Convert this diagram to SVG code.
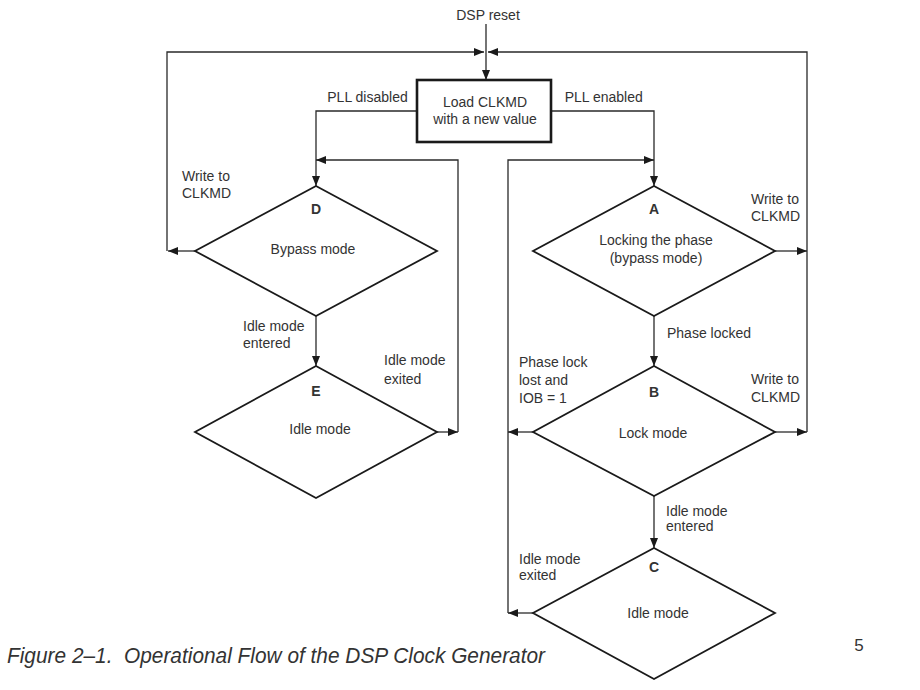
<svg xmlns="http://www.w3.org/2000/svg" width="920" height="690" viewBox="0 0 920 690">
<defs>
<marker id="ah" viewBox="0 0 10 8" refX="10" refY="4" markerWidth="10" markerHeight="8" markerUnits="userSpaceOnUse" orient="auto">
<path d="M0,0 L10,4 L0,8 Z" fill="#1a1a1a"/>
</marker>
<style>
text{font-family:"Liberation Sans",Arial,sans-serif;font-size:14px;fill:#333}
.c{text-anchor:middle}
.b{font-weight:bold}
.dia{fill:none;stroke:#1a1a1a;stroke-width:1.8}
.box{fill:#fff;stroke:#1a1a1a;stroke-width:2.6}
.cn{fill:none;stroke:#2a2a2a;stroke-width:1.3}
.ar{marker-end:url(#ah)}
</style>
</defs>
<rect width="920" height="690" fill="#fff"/>

<g id="connectors">
<path class="cn ar" d="M486,24 V80"/>
<path class="cn ar" d="M167,251 V52 H484"/>
<path class="cn ar" d="M807,432 V52 H488"/>
<path class="cn ar" d="M195,251 H168"/>
<path class="cn ar" d="M775,251 H807"/>
<path class="cn ar" d="M775,432 H807"/>
<path class="cn ar" d="M417,111 H316 V186"/>
<path class="cn ar" d="M551,111 H654 V186"/>
<path class="cn ar" d="M316,316 V366"/>
<path class="cn ar" d="M437,432 H458"/>
<path class="cn ar" d="M458,432 V160 H316"/>
<path class="cn ar" d="M654,316 V366"/>
<path class="cn ar" d="M654,496 V548"/>
<path class="cn ar" d="M533,432 H508"/>
<path class="cn ar" d="M533,613 H508"/>
<path class="cn ar" d="M508,613 V160 H654"/>
<text x="367.5" y="102" class="c">PLL disabled</text>
<text x="603.7" y="102" class="c">PLL enabled</text>
<text x="182" y="181">Write to</text>
<text x="182" y="198">CLKMD</text>
<text x="751" y="204">Write to</text>
<text x="751" y="221">CLKMD</text>
<text x="751" y="384">Write to</text>
<text x="751" y="402">CLKMD</text>
<text x="243" y="330.5">Idle mode</text>
<text x="243" y="348">entered</text>
<text x="384" y="365">Idle mode</text>
<text x="384" y="383.5">exited</text>
<text x="667" y="338">Phase locked</text>
<text x="519" y="367">Phase lock</text>
<text x="519" y="385">lost and</text>
<text x="519" y="402.5">IOB = 1</text>
<text x="666" y="515.5">Idle mode</text>
<text x="666" y="531">entered</text>
<text x="519" y="564">Idle mode</text>
<text x="519" y="580">exited</text>
</g>

<g id="reset">
<text x="488" y="20" class="c">DSP reset</text>
</g>

<g id="load">
<rect class="box" x="417" y="80" width="134" height="62"/>
<text x="485" y="106.5" class="c">Load CLKMD</text>
<text x="485" y="124" class="c">with a new value</text>
</g>

<g id="nodeD">
<path class="dia" d="M316,186 L437,251 L316,316 L195,251 Z"/>
<text x="316" y="214" class="c b">D</text>
<text x="313" y="254" class="c">Bypass mode</text>
</g>

<g id="nodeE">
<path class="dia" d="M316,366 L437,432 L316,498 L195,432 Z"/>
<text x="316" y="395.5" class="c b">E</text>
<text x="320" y="433.5" class="c">Idle mode</text>
</g>

<g id="nodeA">
<path class="dia" d="M654,186 L775,251 L654,316 L533,251 Z"/>
<text x="654" y="214" class="c b">A</text>
<text x="656" y="245" class="c">Locking the phase</text>
<text x="656" y="263" class="c">(bypass mode)</text>
</g>

<g id="nodeB">
<path class="dia" d="M654,366 L775,432 L654,496 L533,432 Z"/>
<text x="654" y="396.5" class="c b">B</text>
<text x="653" y="438" class="c">Lock mode</text>
</g>

<g id="nodeC">
<path class="dia" d="M654,548 L775,613 L654,679 L533,613 Z"/>
<text x="654" y="572" class="c b">C</text>
<text x="658" y="617.5" class="c">Idle mode</text>
</g>

<g id="caption">
<text x="7" y="663" style="font-size:22px;font-style:italic" textLength="538" lengthAdjust="spacingAndGlyphs" xml:space="preserve">Figure 2–1.  Operational Flow of the DSP Clock Generator</text>
<text x="859" y="651" class="c" style="font-size:17px">5</text>
</g>
</svg>
